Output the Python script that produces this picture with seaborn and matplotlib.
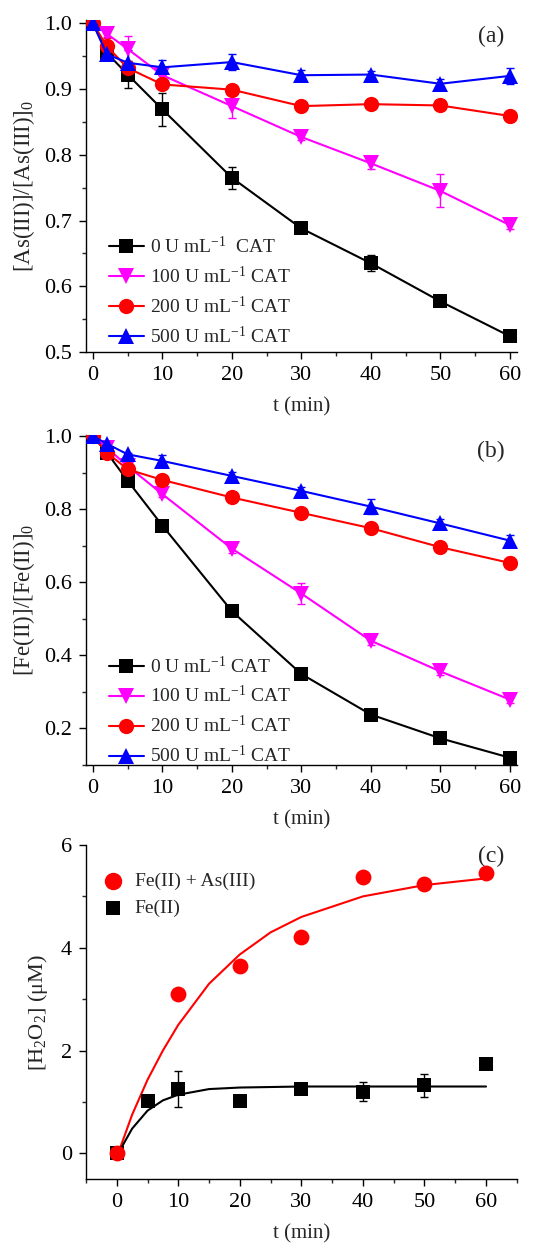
import matplotlib
matplotlib.use("Agg")
import matplotlib.pyplot as plt
import numpy as np
import pandas as pd
import seaborn as sns
from matplotlib.ticker import MultipleLocator, FormatStrFormatter

# time points (min)
t = [0, 2, 5, 10, 20, 30, 40, 50, 60]
doses = ["0", "100", "200", "500"]
colors = ["#000000", "#FF00FF", "#FF0000", "#0000FF"]
markers = ["s", "v", "o", "^"]
msizes = [10, 11, 11, 11]

# (a) As(III) oxidation
as_0 = [1.0, 0.955, 0.922, 0.869, 0.765, 0.688, 0.635, 0.577, 0.524]
as_100 = [1.0, 0.984, 0.961, 0.921, 0.874, 0.827, 0.787, 0.745, 0.693]
as_200 = [1.0, 0.965, 0.932, 0.907, 0.899, 0.874, 0.877, 0.875, 0.859]
as_500 = [1.0, 0.953, 0.940, 0.933, 0.941, 0.921, 0.922, 0.908, 0.920]
as_0_err = [0, 0.01, 0.02, 0.025, 0.017, 0.005, 0.012, 0.005, 0.005]
as_100_err = [0, 0.005, 0.02, 0.01, 0.018, 0.005, 0.008, 0.025, 0.006]
as_200_err = [0, 0.012, 0.01, 0.005, 0.005, 0.004, 0.004, 0.004, 0.004]
as_500_err = [0, 0.008, 0.02, 0.011, 0.012, 0.008, 0.006, 0.008, 0.012]

# (b) Fe(II) oxidation
fe_0 = [1.0, 0.955, 0.878, 0.755, 0.521, 0.349, 0.238, 0.173, 0.120]
fe_100 = [1.0, 0.968, 0.918, 0.841, 0.692, 0.569, 0.440, 0.356, 0.279]
fe_200 = [1.0, 0.955, 0.909, 0.880, 0.832, 0.790, 0.748, 0.696, 0.653]
fe_500 = [1.0, 0.979, 0.950, 0.932, 0.891, 0.850, 0.807, 0.761, 0.714]
fe_0_err = [0, 0.01, 0.01, 0.008, 0.008, 0.008, 0.008, 0.008, 0.005]
fe_100_err = [0, 0.008, 0.01, 0.008, 0.012, 0.028, 0.012, 0.01, 0.01]
fe_200_err = [0, 0.005, 0.005, 0.005, 0.005, 0.005, 0.005, 0.005, 0.015]
fe_500_err = [0, 0.008, 0.005, 0.015, 0.012, 0.012, 0.02, 0.012, 0.015]

# (c) H2O2 formation
h2o2_t = [0, 10, 20, 30, 40, 50, 60]
h2o2_feas = [0.0, 3.11, 3.65, 4.20, 5.37, 5.25, 5.46]
h2o2_fe_t = [0, 5, 10, 20, 30, 40, 50, 60]
h2o2_fe = [0.0, 1.02, 1.26, 1.02, 1.25, 1.20, 1.32, 1.74]
h2o2_fe_err = [0, 0.03, 0.35, 0.03, 0.06, 0.18, 0.22, 0.05]
# fitted curves
fit_t_feas = [0, 2.5, 5, 7.5, 10, 15, 20, 25, 30, 40, 50, 60]
fit_feas = [-0.08, 0.75, 1.43, 2.0, 2.5, 3.3, 3.87, 4.3, 4.6, 5.0, 5.22, 5.35]
fit_t_fe = [0, 1, 2.5, 5, 7.5, 10, 15, 20, 30, 40, 50, 60]
fit_fe = [-0.12, 0.16, 0.48, 0.83, 1.03, 1.14, 1.25, 1.28, 1.30, 1.30, 1.30, 1.30]

sns.set_style("ticks")
plt.rcParams["font.family"] = ["Liberation Serif", "DejaVu Serif"]
plt.rcParams["mathtext.fontset"] = "custom"
plt.rcParams["mathtext.rm"] = "Liberation Serif"
plt.rcParams["mathtext.it"] = "Liberation Serif:italic"
plt.rcParams["xtick.direction"] = "out"
plt.rcParams["ytick.direction"] = "out"

fig = plt.figure(figsize=(5.44, 12.5), dpi=100)
ax_a = fig.add_axes([0.158, 0.7184, 0.792, 0.2656])
ax_b = fig.add_axes([0.158, 0.388, 0.792, 0.264])
ax_c = fig.add_axes([0.158, 0.0568, 0.792, 0.2672])


def style_axis(ax):
    sns.despine(ax=ax)
    for s in ["left", "bottom"]:
        ax.spines[s].set_linewidth(1.0)
        ax.spines[s].set_color("black")
    ax.tick_params(which="major", length=5, width=1, labelsize=16, pad=5,
                   colors="black")
    ax.tick_params(which="minor", length=3, width=1)
    ax.set_xlabel("t (min)", fontsize=15, labelpad=9)


def kinetic_panel(ax, series, errs, ylabel, tag, leg_y):
    for i, (y, e) in enumerate(zip(series, errs)):
        lab = f"{doses[i]} U mL$^{{-1}}$ CAT"
        if i == 0 and tag == "(a)":
            lab = f"{doses[i]} U mL$^{{-1}}$  CAT"
        ax.errorbar(t, y, yerr=e, fmt="none", ecolor=colors[i], elinewidth=1,
                    capsize=3, capthick=1, zorder=2)
        sns.lineplot(x=t, y=y, ax=ax, color=colors[i], marker=markers[i],
                     markersize=msizes[i], markeredgewidth=0, linewidth=1.5,
                     label=lab, zorder=3)
    ax.set_xlim(-1, 61)
    ax.xaxis.set_major_locator(MultipleLocator(10))
    ax.xaxis.set_minor_locator(MultipleLocator(5))
    ax.yaxis.set_major_formatter(FormatStrFormatter("%.1f"))
    ax.set_ylabel(ylabel, fontsize=16.5, labelpad=5)
    ax.text(0.94, 0.95, tag, transform=ax.transAxes, fontsize=17,
            ha="center", va="center")
    style_axis(ax)
    ax.legend(loc="lower left", bbox_to_anchor=(0.035, leg_y), frameon=False,
              fontsize=14, handlelength=1.8, handletextpad=0.3,
              labelspacing=0.45, borderaxespad=0.0)


kinetic_panel(ax_a, [as_0, as_100, as_200, as_500],
              [as_0_err, as_100_err, as_200_err, as_500_err],
              "[As(III)]/[As(III)]$_0$", "(a)", -0.008)
ax_a.set_ylim(0.5, 1.005)
ax_a.yaxis.set_major_locator(MultipleLocator(0.1))
ax_a.yaxis.set_minor_locator(MultipleLocator(0.05))

kinetic_panel(ax_b, [fe_0, fe_100, fe_200, fe_500],
              [fe_0_err, fe_100_err, fe_200_err, fe_500_err],
              "[Fe(II)]/[Fe(II)]$_0$", "(b)", -0.028)
ax_b.set_ylim(0.1, 1.003)
ax_b.yaxis.set_major_locator(MultipleLocator(0.2))
ax_b.yaxis.set_minor_locator(MultipleLocator(0.1))

# (c)
sns.lineplot(x=fit_t_feas, y=fit_feas, ax=ax_c, color="#FF0000", linewidth=1.5, zorder=2)
sns.lineplot(x=fit_t_fe, y=fit_fe, ax=ax_c, color="#000000", linewidth=1.5, zorder=2)
ax_c.errorbar(h2o2_fe_t, h2o2_fe, yerr=h2o2_fe_err, fmt="none", ecolor="black",
              elinewidth=1, capsize=3, capthick=1, zorder=3)
sns.scatterplot(x=h2o2_fe_t, y=h2o2_fe, ax=ax_c, color="#000000", marker="s",
                s=90, linewidth=0, label="Fe(II)", zorder=4)
sns.scatterplot(x=h2o2_t, y=h2o2_feas, ax=ax_c, color="#FF0000", marker="o",
                s=130, linewidth=0, label="Fe(II) + As(III)", zorder=5)
ax_c.set_xlim(-5, 65)
ax_c.set_ylim(-0.5, 6)
ax_c.xaxis.set_major_locator(MultipleLocator(10))
ax_c.xaxis.set_minor_locator(MultipleLocator(5))
ax_c.yaxis.set_major_locator(MultipleLocator(2))
ax_c.yaxis.set_minor_locator(MultipleLocator(1))
ax_c.set_ylabel("[H$_2$O$_2$] (μM)", fontsize=16, labelpad=8)
ax_c.text(0.94, 0.965, "(c)", transform=ax_c.transAxes, fontsize=17,
          ha="center", va="center")
style_axis(ax_c)
h, l = ax_c.get_legend_handles_labels()
ax_c.legend(h[::-1], l[::-1], loc="upper left", bbox_to_anchor=(0.0, 0.94),
            frameon=False, fontsize=14, handletextpad=0.1, labelspacing=0.45,
            borderaxespad=0.0, markerscale=1.1)

fig.savefig("out.png", dpi=100)
